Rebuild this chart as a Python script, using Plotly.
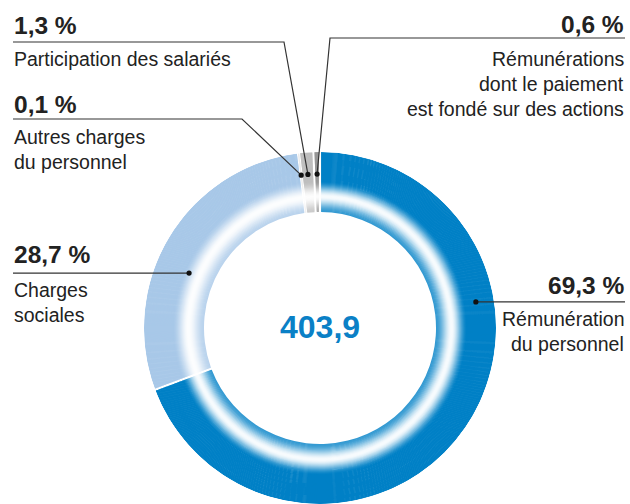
import math
import plotly.graph_objects as go

# ---- data -------------------------------------------------------------
values = [69.3, 28.7, 0.1, 1.3, 0.6]
pct_text = ["69,3 %", "28,7 %", "0,1 %", "1,3 %", "0,6 %"]
names = [
    ["Rémunération", "du personnel"],
    ["Charges", "sociales"],
    ["Autres charges", "du personnel"],
    ["Participation des salariés"],
    ["Rémunérations", "dont le paiement", "est fondé sur des actions"],
]
total_text = "403,9"

# ---- styling ----------------------------------------------------------
base_colors = [(0, 128, 198), (168, 200, 232), (236, 236, 236),
               (190, 190, 190), (150, 150, 150)]
TEXT = "#222222"
BLUE = "#0a80c6"
LINE = "#333333"
FONT = "Liberation Sans, Arial, Helvetica, sans-serif"
REG_SIZE, BOLD_SIZE = 19.5, 24.5

W, H = 630, 504
CX, CY = 320, 328          # ring centre (px, from top-left)
R_IN, R_OUT = 116, 176     # ring radii in px (radial axis is 1 unit = 1 px)
GAP_PX = 2.2               # white separation between slices
N_BANDS = 60               # radial bands used to build the shading


def white_mix(t):
    """Amount of white blended into the base colour at relative radius t."""
    def smooth(s):
        s = min(max(s, 0.0), 1.0)
        return s * s * (3 - 2 * s)
    t0, t1 = 0.26, 0.52
    if t < t0:
        return 0.2 + (0.97 - 0.2) * smooth(t / t0)
    if t < t1:
        return 0.97 * (1 - smooth((t - t0) / (t1 - t0)))
    return 0.0


def shade(rgb, w):
    return "rgb({},{},{})".format(*[round(c * (1 - w) + 255 * w) for c in rgb])


# slice angles (degrees, clockwise from 12 o'clock)
starts, ends = [], []
acc = 0.0
for v in values:
    starts.append(acc * 3.6)
    acc += v
    ends.append(acc * 3.6)

thetas, widths, bases, lengths, colors = [], [], [], [], []
step = (R_OUT - R_IN) / N_BANDS
for k in range(N_BANDS):
    r0 = R_IN + k * step
    rmid = r0 + step / 2
    t = (rmid - R_IN) / (R_OUT - R_IN)
    w = white_mix(t)
    gap_deg = math.degrees(GAP_PX / rmid)
    min_deg = math.degrees(1.3 / rmid)
    thick = step + 0.6 if k < N_BANDS - 1 else step
    for a, b, rgb in zip(starts, ends, base_colors):
        a0, a1 = a + gap_deg / 2, b - gap_deg / 2
        if a1 - a0 < min_deg:
            c = (a + b) / 2
            a0, a1 = c - min_deg / 2, c + min_deg / 2
        thetas.append((a0 + a1) / 2)
        widths.append(a1 - a0)
        bases.append(r0)
        lengths.append(thick)
        colors.append(shade(rgb, w))

fig = go.Figure(go.Barpolar(
    r=lengths, base=bases, theta=thetas, width=widths,
    marker=dict(color=colors, line=dict(width=0)),
    hoverinfo="skip", showlegend=False,
))

# ---- leaders ----------------------------------------------------------
# dot position inside each slice: (fraction of slice, radius px)
dot_spot = [(0.3227, 158), (0.419, 142), (0.5, 154), (0.5, 154), (0.5, 154)]
# label blocks: side, text x, baseline of the % line, first name baseline, elbow
blocks = [
    dict(side="right", x=626, base=293, first=325, elbow=None),
    dict(side="left", x=12, base=262, first=296, elbow=None),
    dict(side="left", x=12, base=112, first=143, elbow=(242, 119)),
    dict(side="left", x=12, base=33, first=65, elbow=(284, 42)),
    dict(side="right", x=626, base=32, first=65, elbow=(330, 38)),
]
LINE_STEP = 25


def px(x, y):
    return x / W, 1 - y / H


shapes, annotations = [], []


def label(text, x, baseline, anchor, size, color, bold=False):
    ybox = baseline + 0.212 * size + 2.5
    xp, yp = px(x, ybox)
    annotations.append(dict(
        text=f"<b>{text}</b>" if bold else text,
        x=xp, y=yp, xref="paper", yref="paper",
        xanchor=anchor, yanchor="bottom", showarrow=False,
        font=dict(family=FONT, size=size, color=color),
    ))


for i, (blk, (frac, rd)) in enumerate(zip(blocks, dot_spot)):
    ang = math.radians(starts[i] + frac * (ends[i] - starts[i]))
    dx, dy = CX + rd * math.sin(ang), CY - rd * math.cos(ang)
    end_x = 13 if blk["side"] == "left" else 625
    if blk["elbow"] is None:
        pts = [(dx, dy), (end_x, dy)]
    else:
        pts = [(dx, dy), blk["elbow"], (end_x, blk["elbow"][1])]
    path = "M " + " L ".join("{:.5f},{:.5f}".format(*px(x, y)) for x, y in pts)
    shapes.append(dict(type="path", path=path, xref="paper", yref="paper",
                       line=dict(color=LINE, width=1.2), layer="above"))
    rr = 2.6
    x0, y0 = px(dx - rr, dy + rr)
    x1, y1 = px(dx + rr, dy - rr)
    shapes.append(dict(type="circle", xref="paper", yref="paper",
                       x0=x0, y0=y0, x1=x1, y1=y1,
                       fillcolor="#111111", line=dict(width=0), layer="above"))

    anchor = "left" if blk["side"] == "left" else "right"
    label(pct_text[i], blk["x"], blk["base"], anchor, BOLD_SIZE, TEXT, bold=True)
    for j, line in enumerate(names[i]):
        label(line, blk["x"], blk["first"] + j * LINE_STEP, anchor, REG_SIZE, TEXT)

# total in the middle of the ring
label(total_text, CX, 338, "center", 32, BLUE, bold=True)

fig.update_layout(
    width=W, height=H,
    margin=dict(l=0, r=0, t=0, b=0),
    paper_bgcolor="white", plot_bgcolor="white",
    polar=dict(
        domain=dict(x=[(CX - R_OUT) / W, (CX + R_OUT) / W],
                    y=[(H - CY - R_OUT) / H, (H - CY + R_OUT) / H]),
        bgcolor="rgba(0,0,0,0)",
        radialaxis=dict(range=[0, R_OUT], visible=False),
        angularaxis=dict(rotation=90, direction="clockwise", visible=False),
        hole=0,
    ),
    shapes=shapes,
    annotations=annotations,
    showlegend=False,
)

fig.write_html("out.html")
